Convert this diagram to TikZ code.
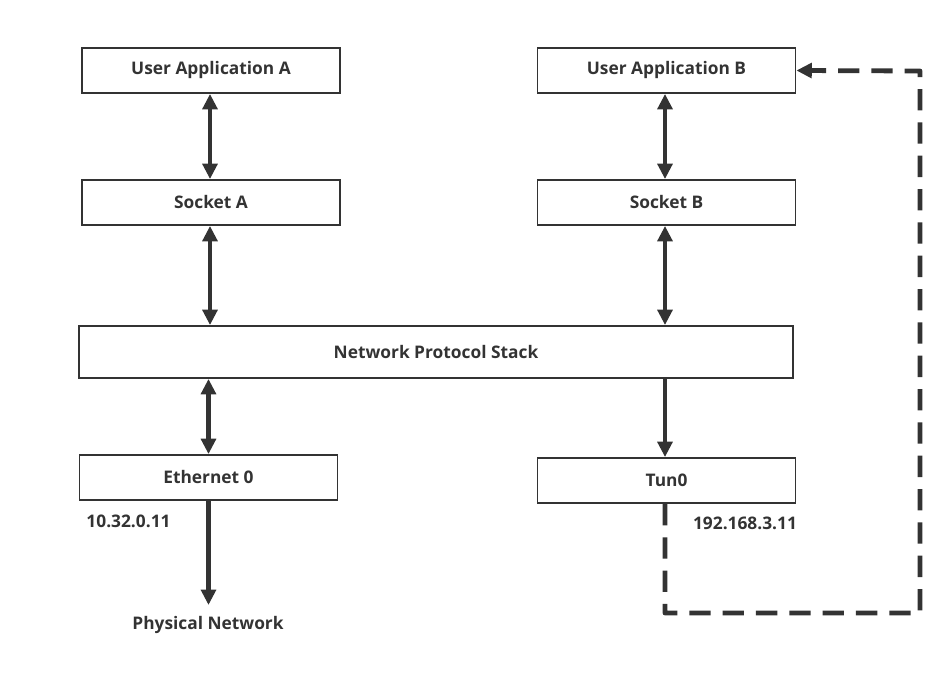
\documentclass[tikz,border=0pt]{standalone}
\usepackage{fontspec}
\setmainfont{Open Sans}
\usetikzlibrary{arrows.meta,calc}
\definecolor{ink}{HTML}{333333}
\begin{document}
\begin{tikzpicture}[x=0.75pt,y=-0.75pt,
  box/.style={draw=ink,line width=1.4pt,minimum width=193.5pt,minimum height=33.75pt,inner sep=0pt,font=\bfseries\fontsize{13}{15}\selectfont,text=ink},
  lbl/.style={font=\bfseries\fontsize{13}{15}\selectfont,text=ink,inner sep=0pt},
  conn/.style={draw=ink,line width=3.6pt},
  tip/.style={-{Triangle[length=11.5pt,width=11pt]}},
  dtip/.style={{Triangle[length=11.5pt,width=11pt]}-{Triangle[length=11.5pt,width=11pt]}},
  dashline/.style={draw=ink,line width=3.6pt,dash pattern=on 16pt off 9pt}
]
\useasboundingbox (0,0) rectangle (951,677);
\node[box] (uaa) at (211,70.5) {User Application A};
\node[box] (uab) at (666.5,70.5) {User Application B};
\node[box] (sa) at (211,202.5) {Socket A};
\node[box] (sb) at (666.5,202.5) {Socket B};
\node[box,minimum width=535.5pt,minimum height=39pt] (nps) at (436,352) {Network Protocol Stack};
\node[box] (eth) at (208.5,477.5) {Ethernet 0};
\node[box] (tun) at (666.5,480.5) {Tun0};
\node[lbl] (ipa) at (128.5,521) {10.32.0.11};
\node[lbl] (ipb) at (745,523) {192.168.3.11};
\node[lbl] (phys) at (208,625) {Physical Network};
\coordinate (ea) at (210,0);
\coordinate (eb) at (665,0);
\draw[conn,dtip] (uaa.south -| ea) -- (sa.north -| ea);
\draw[conn,dtip] (uab.south -| eb) -- (sb.north -| eb);
\draw[conn,dtip] (sa.south -| ea) -- (nps.north -| ea);
\draw[conn,dtip] (sb.south -| eb) -- (nps.north -| eb);
\draw[conn,dtip] (nps.south -| eth.north) -- (eth.north);
\draw[conn,tip] (nps.south -| eb) -- (tun.north -| eb);
\coordinate (pe) at (208.5,605);
\draw[conn,tip] (eth.south) -- (pe);
\coordinate (c1) at (665,613);
\coordinate (c2) at (920,613);
\coordinate (c3) at (920,71);
\draw[dashline,tip,line join=round] (tun.south -| eb) -- (c1) -- (c2) -- (c3) -- (uab.east);
\end{tikzpicture}
\end{document}
